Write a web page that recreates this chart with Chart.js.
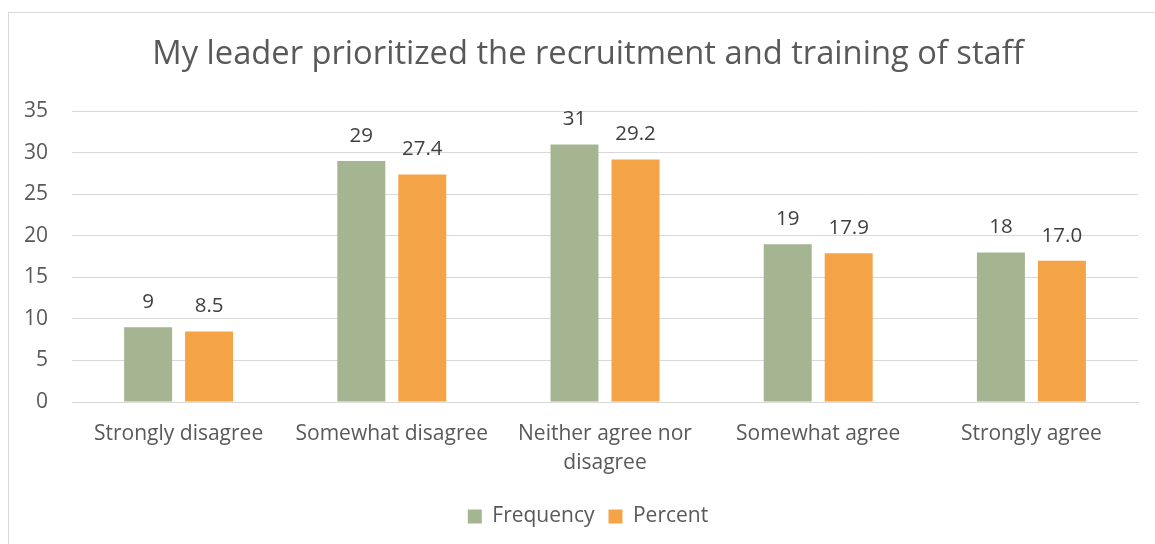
<!DOCTYPE html>
<html>
<head>
<meta charset="utf-8">
<script src="https://cdn.jsdelivr.net/npm/chart.js@4"></script>
<style>
  html, body { margin: 0; padding: 0; background: #ffffff; overflow: hidden; }
  #frame { position: absolute; left: 8px; top: 12px; width: 1160px; height: 540px; border: 1px solid #d9d9d9; box-sizing: border-box; }
  #wrap { position: absolute; left: 0; top: 0; width: 1155px; height: 544px; overflow: hidden; }
  #c { position: absolute; left: 0; top: 0; }
</style>
</head>
<body>
<div id="frame"></div>
<div id="wrap"><canvas id="c" width="1180" height="544"></canvas></div>
<script>
const titleText = 'My leader prioritized the recruitment and training of staff';
const categories = [
  'Strongly disagree',
  'Somewhat disagree',
  ['Neither agree nor', 'disagree'],
  'Somewhat agree',
  'Strongly agree'
];
const frequency = [9, 29, 31, 19, 18];
const percent = [8.5, 27.4, 29.2, 17.9, 17.0];
const seriesNames = ['Frequency', 'Percent'];
const seriesDecimals = [0, 1];
const yTicks = [0, 5, 10, 15, 20, 25, 30, 35];

const FONT = '"Open Sans", Lato, "Liberation Sans", sans-serif';
const TEXT = '#595959';

const dataLabels = {
  id: 'dataLabels',
  afterDatasetsDraw(chart) {
    const ctx = chart.ctx;
    ctx.save();
    ctx.font = '20.5px ' + FONT;
    ctx.fillStyle = '#404040';
    ctx.textAlign = 'center';
    ctx.textBaseline = 'middle';
    chart.data.datasets.forEach((ds, di) => {
      const meta = chart.getDatasetMeta(di);
      meta.data.forEach((el, i) => {
        const v = ds.data[i];
        ctx.fillText(v.toFixed(seriesDecimals[di]), el.x, el.y - 25);
      });
    });
    ctx.restore();
  }
};

new Chart(document.getElementById('c'), {
  type: 'bar',
  data: {
    labels: categories,
    datasets: [
      { label: seriesNames[0], data: frequency, backgroundColor: '#a5b592', categoryPercentage: 0.572, barPercentage: 0.787, yAxisID: 'y' },
      { label: seriesNames[1], data: percent, backgroundColor: '#f4a446', categoryPercentage: 0.572, barPercentage: 0.787, yAxisID: 'y' }
    ]
  },
  options: {
    responsive: false,
    animation: false,
    layout: { padding: { left: 10, right: 14, top: 0, bottom: 7 } },
    plugins: {
      title: {
        display: true,
        text: titleText,
        color: TEXT,
        font: { family: FONT, size: 32.7, weight: 'normal', lineHeight: 1.2 },
        padding: { top: 35, bottom: 37 }
      },
      legend: {
        display: true,
        position: 'bottom',
        labels: {
          color: TEXT,
          font: { family: FONT, size: 21 },
          boxWidth: 14,
          boxHeight: 14,
          padding: 14
        }
      },
      tooltip: { enabled: false }
    },
    scales: {
      x: {
        grid: { display: false, drawTicks: false },
        border: { display: true, color: '#d9d9d9', width: 1 },
        ticks: { color: TEXT, font: { family: FONT, size: 21, lineHeight: 1.35 }, padding: 18, maxRotation: 0, autoSkip: false },
        afterFit(scale) { scale.height = 90; }
      },
      y: {
        position: 'left',
        min: 0,
        max: 35,
        afterBuildTicks(scale) { scale.ticks = yTicks.map(v => ({ value: v })); },
        grid: { color: '#d9d9d9', lineWidth: 1, drawTicks: false },
        border: { display: false },
        ticks: { color: TEXT, font: { family: FONT, size: 21 }, padding: 24 },
        afterFit(scale) { scale.width = 62; }
      },
      spacer: {
        type: 'linear',
        position: 'right',
        min: 0,
        max: 35,
        grid: { display: false, drawTicks: false },
        border: { display: false },
        ticks: { display: false },
        afterFit(scale) { scale.width = 28; }
      }
    }
  },
  plugins: [dataLabels]
});
</script>
</body>
</html>
